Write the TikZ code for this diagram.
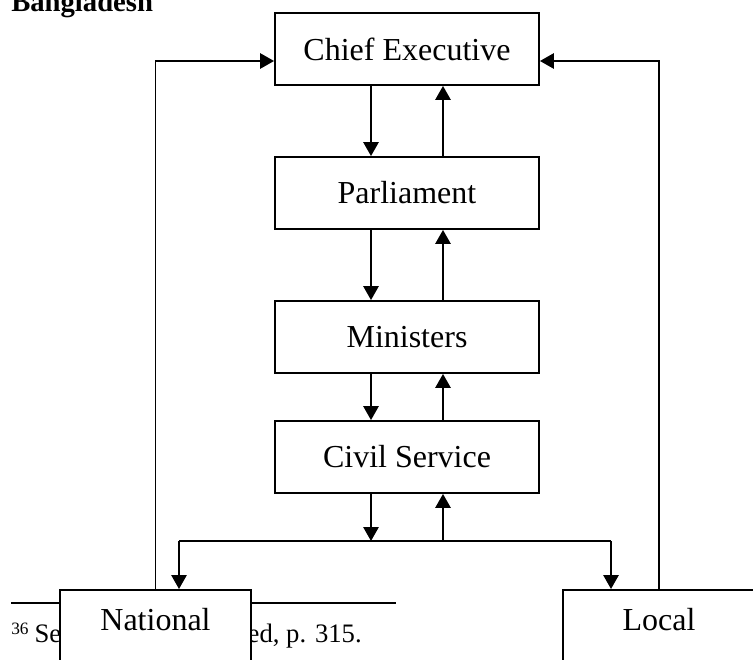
\documentclass[tikz,border=0pt]{standalone}
\usepackage{fontspec}
\setmainfont{Liberation Serif}
\usetikzlibrary{arrows.meta}
\begin{document}
\begin{tikzpicture}[x=0.75pt,y=-0.75pt,
  box/.style={draw, line width=1.4pt, fill=white, minimum width=198pt, minimum height=54pt,
    inner sep=0pt, font=\fontsize{24}{28}\selectfont},
  lowbox/.style={draw, line width=1.4pt, fill=white, anchor=north, minimum width=143.5pt,
    text height=16pt, text depth=50pt, inner xsep=0pt, inner ysep=14.5pt,
    font=\fontsize{24}{28}\selectfont},
  conn/.style={line width=1.4pt},
  arr/.style={conn, -{Triangle[length=10.5pt,width=11.5pt]}}]
\useasboundingbox (0,0) rectangle (753,660);
% title
\node[anchor=base west, inner sep=0pt, font=\fontsize{21.5}{24}\selectfont\bfseries] (title) at (11,12) {Bangladesh};
% footnote
\draw[line width=1.3pt] (11,603) coordinate (ruleL) -- (396,603) coordinate (ruleR);
\node[anchor=base west, inner sep=0pt, font=\fontsize{20}{24}\selectfont] (fna) at (11,642)
  {\raisebox{6pt}{\fontsize{13}{15}\selectfont 36}\hspace{4.5pt}Se};
\node[anchor=base east, inner sep=0pt, font=\fontsize{20}{24}\selectfont] (fnb) at (362,642) {ed, p. 315.};
% boxes
\node[box] (chief) at (407,49) {Chief Executive};
\node[box] (parl) at (407,193) {Parliament};
\node[box] (min) at (407,337) {Ministers};
\node[box] (civil) at (407,457) {Civil Service};
\node[lowbox] (nat) at (155.5,589) {National};
\node[lowbox] (loc) at (659,589) {Local};
% vertical links
\foreach \a/\b in {chief/parl, parl/min, min/civil}{
  \draw[arr] ([xshift=-27pt]\a.south) -- ([xshift=-27pt]\b.north);
  \draw[arr] ([xshift=27pt]\b.north) -- ([xshift=27pt]\a.south);
}
% bus
\coordinate (busL) at (179,541);
\coordinate (busR) at (611,541);
\draw[conn] (busL) -- (busR);
\draw[arr] ([xshift=-27pt]civil.south) -- ([xshift=-27pt]civil.south |- busL);
\draw[arr] ([xshift=27pt]civil.south |- busL) -- ([xshift=27pt]civil.south);
\draw[arr] (busL) -- (busL |- nat.north);
\draw[arr] (busR) -- (busR |- loc.north);
% feedback to chief
\coordinate (inL) at ([yshift=-9pt]chief.west);
\coordinate (inR) at ([yshift=-9pt]chief.east);
\draw[arr] (nat.north) -- (nat.north |- inL) -- (inL);
\draw[arr] (loc.north) -- (loc.north |- inR) -- (inR);
\end{tikzpicture}
\end{document}
